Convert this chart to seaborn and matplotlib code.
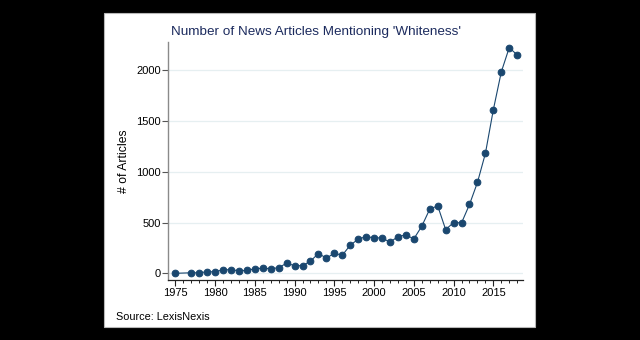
import matplotlib
matplotlib.use("Agg")
import matplotlib.pyplot as plt
from matplotlib.patches import Rectangle
from matplotlib.ticker import MultipleLocator
import seaborn as sns
import pandas as pd

years = [1975, 1977, 1978, 1979, 1980, 1981, 1982, 1983, 1984, 1985, 1986,
         1987, 1988, 1989, 1990, 1991, 1992, 1993, 1994, 1995, 1996, 1997,
         1998, 1999, 2000, 2001, 2002, 2003, 2004, 2005, 2006, 2007, 2008,
         2009, 2010, 2011, 2012, 2013, 2014, 2015, 2016, 2017, 2018]
articles = [0, 5, 5, 15, 15, 35, 35, 25, 28, 45, 50,
            45, 55, 100, 75, 75, 120, 195, 150, 197, 178, 277,
            336, 362, 349, 349, 306, 362, 378, 339, 464, 632, 665,
            431, 500, 497, 678, 895, 1181, 1612, 1984, 2224, 2151]
x_ticks = [1975, 1980, 1985, 1990, 1995, 2000, 2005, 2010, 2015]
y_ticks = [0, 500, 1000, 1500, 2000]

df = pd.DataFrame({"year": years, "articles": articles})

sns.set_theme(style="white")
plt.rcParams["font.family"] = ["Liberation Sans", "DejaVu Sans"]

navy = "#1a476f"
fig = plt.figure(figsize=(6.4, 3.4), dpi=100, facecolor="black")

# white graph region with thin grey frame
fig.patches.append(Rectangle((104 / 640, 1 - 327 / 340), 431 / 640, 314 / 340,
                             transform=fig.transFigure, facecolor="white",
                             edgecolor="#b8b8b8", linewidth=0.8, zorder=-5))

ax = fig.add_axes([168 / 640, 60 / 340, 355 / 640, 238 / 340], zorder=2)
ax.set_facecolor("white")

for yv in y_ticks:
    ax.axhline(yv, color="#e6eff1", linewidth=0.9, zorder=0)

sns.lineplot(data=df, x="year", y="articles", ax=ax, color=navy,
             linewidth=0.8, marker="o", markersize=4.8,
             markeredgecolor=navy, markerfacecolor=navy, zorder=3)

ax.set_xlim(1974.08, 2018.73)
ax.set_ylim(-66, 2279)
ax.set_xticks(x_ticks)
ax.set_yticks(y_ticks)
ax.xaxis.set_minor_locator(MultipleLocator(1))

for side in ("top", "right"):
    ax.spines[side].set_visible(False)
ax.spines["left"].set_color("#8a8a8a")
ax.spines["left"].set_linewidth(1.0)
ax.spines["bottom"].set_color("#222222")
ax.spines["bottom"].set_linewidth(0.9)

ax.tick_params(axis="y", which="major", direction="out", length=4, width=0.8,
               color="#555555", pad=1, labelsize=8, labelcolor="black", left=True)
ax.tick_params(axis="x", which="major", direction="out", length=4, width=0.8,
               color="#222222", pad=2, labelsize=8, labelcolor="black", bottom=True)
ax.tick_params(axis="x", which="minor", direction="out", length=2.2, width=0.7,
               color="#222222", bottom=True)

ax.set_xlabel("")
ax.set_ylabel("# of Articles", fontsize=8.8, color="black")
ax.yaxis.set_label_coords(-0.108, 0.5)

fig.text(171 / 640, 1 - 32 / 340, "Number of News Articles Mentioning 'Whiteness'",
         fontsize=9.7, color="#1c2b5e", ha="left", va="center")
fig.text(116 / 640, 1 - 317 / 340, "Source: LexisNexis",
         fontsize=7.8, color="black", ha="left", va="center")

fig.savefig("out.png", dpi=100, facecolor="black")
